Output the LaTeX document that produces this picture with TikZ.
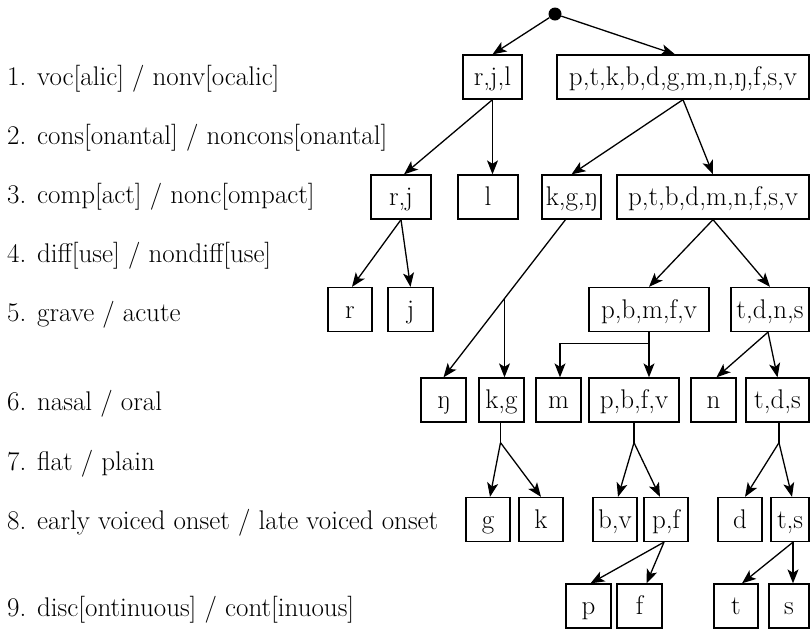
\documentclass[tikz,border=0pt]{standalone}
\usepackage{fontspec}
\setmainfont{Latin Modern Roman}
\usetikzlibrary{arrows.meta,calc}
\begin{document}
\begin{tikzpicture}[x=1pt,y=-1pt,
  every node/.style={font=\fontsize{27}{32}\selectfont},
  bx/.style={draw,line width=1.3pt,minimum height=44pt,inner sep=0pt,text height=20.5pt,text depth=3.5pt},
  lbl/.style={anchor=base west,inner sep=0pt},
  ar/.style={line width=1.3pt,-{Stealth[length=14pt,width=11pt,inset=3.5pt]}},
  ln/.style={line width=1.3pt}]
\useasboundingbox (0,0) rectangle (812,630);
% labels
\node[lbl] (l1) at (7,85)  {1. voc[alic] / nonv[ocalic]};
\node[lbl] (l2) at (7,144) {2. cons[onantal] / noncons[onantal]};
\node[lbl] (l3) at (7,203) {3. comp[act] / nonc[ompact]};
\node[lbl] (l4) at (7,262) {4. diff[use] / nondiff[use]};
\node[lbl] (l5) at (7,321) {5. grave / acute};
\node[lbl] (l6) at (7,410) {6. nasal / oral};
\node[lbl] (l7) at (7,470) {7. flat / plain};
\node[lbl] (l8) at (7,529) {8. early voiced onset / late voiced onset};
\node[lbl] (l9) at (7,616) {9. disc[ontinuous] / cont[inuous]};
% root
\node[circle,fill,inner sep=0pt,minimum size=13pt] (root) at (555,14) {};
% level 1
\node[bx,minimum width=59pt]  (rjl) at (492.5,77) {r,j,l};
\node[bx,minimum width=252pt] (all) at (683,77) {p,t,k,b,d,g,m,n,ŋ,f,s,v};
% level 3
\node[bx,minimum width=60pt]  (rj)   at (401,197) {r,j};
\node[bx,minimum width=60pt]  (l)    at (488,197) {l};
\node[bx,minimum width=59pt]  (kgng) at (571.5,197) {k,g,ŋ};
\node[bx,minimum width=192pt] (ptbd) at (713,197) {p,t,b,d,m,n,f,s,v};
% level 5
\node[bx,minimum width=44pt]  (r)     at (350,309.5) {r};
\node[bx,minimum width=45pt]  (j)     at (410.5,309.5) {j};
\node[bx,minimum width=120pt] (pbmfv) at (649,309.5) {p,b,m,f,v};
\node[bx,minimum width=78pt]  (tdns)  at (770,309.5) {t,d,n,s};
% level 6
\node[bx,minimum width=45pt] (ng)   at (443.5,400) {ŋ};
\node[bx,minimum width=45pt] (kg)   at (501.5,400) {k,g};
\node[bx,minimum width=45pt] (m)    at (558.5,400) {m};
\node[bx,minimum width=90pt] (pbfv) at (634,400) {p,b,f,v};
\node[bx,minimum width=45pt] (n)    at (713.5,400) {n};
\node[bx,minimum width=63pt] (tds)  at (777.5,400) {t,d,s};
% level 8
\node[bx,minimum width=44pt] (g)  at (488,519.5) {g};
\node[bx,minimum width=44pt] (k)  at (541,519.5) {k};
\node[bx,minimum width=44pt] (bv) at (615,519.5) {b,v};
\node[bx,minimum width=44pt] (pf) at (666,519.5) {p,f};
\node[bx,minimum width=44pt] (d)  at (740,519.5) {d};
\node[bx,minimum width=38pt] (ts) at (790,519.5) {t,s};
% level 9
\node[bx,minimum width=45pt] (p) at (588.5,606) {p};
\node[bx,minimum width=45pt] (f) at (639.5,606) {f};
\node[bx,minimum width=44pt] (t) at (736,606) {t};
\node[bx,minimum width=40pt] (s) at (789,606) {s};
% connectors
\draw[ar] (root) -- (rjl.north);
\draw[ar] (root) -- ($(all.north)+(-8,0)$);
\draw[ar] (rjl.south) -- ($(rj.north)+(3,0)$);
\draw[ar] (rjl.south) -- (rjl.south |- l.north);
\draw[ar] (all.south) -- (kgng.north);
\draw[ar] (all.south) -- (ptbd.north);
\draw[ar] (rj.south) -- ($(r.north)+(2,0)$);
\draw[ar] (rj.south) -- (j.north);
\coordinate (ks) at ($(kgng.south)+(-6,0)$);
\coordinate (br) at ($(ks)!0.5!(ng.north)$);
\draw[ar] (ks) -- (ng.north);
\draw[ar] (br) -- (br |- kg.north);
\draw[ar] (ptbd.south) -- (pbmfv.north);
\draw[ar] (ptbd.south) -- (tdns.north);
\coordinate (el) at ($(pbmfv.south)+(0,11)$);
\draw[ar] (pbmfv.south) -- (pbmfv.south |- pbfv.north);
\draw[ar] (el) -| ($(m.north)+(1.5,0)$);
\coordinate (tdb) at ($(tdns.south)+(-2,0)$);
\draw[ar] (tdb) -- ($(n.north)+(3,0)$);
\draw[ar] (tdb) -- (tds.north);
\coordinate (f1) at ($(kg.south)+(-1,20)$);
\draw[ln] ($(kg.south)+(-1,0)$) -- (f1);
\draw[ar] (f1) -- ($(g.north)+(2,0)$);
\draw[ar] (f1) -- (k.north);
\coordinate (f2) at ($(pbfv.south)+(0,20)$);
\draw[ln] (pbfv.south) -- (f2);
\draw[ar] (f2) -- ($(bv.north)+(3,0)$);
\draw[ar] (f2) -- ($(pf.north)+(-6,0)$);
\coordinate (f3) at ($(tds.south)+(1.5,20)$);
\draw[ln] ($(tds.south)+(1.5,0)$) -- (f3);
\draw[ar] (f3) -- ($(d.north)+(5,0)$);
\draw[ar] (f3) -- ($(ts.north)+(2,0)$);
\coordinate (pfb) at ($(pf.south)+(-2,0)$);
\draw[ar] (pfb) -- ($(p.north)+(2,0)$);
\draw[ar] (pfb) -- ($(f.north)+(7,0)$);
\coordinate (tsb) at ($(ts.south)+(3,0)$);
\draw[ar] (tsb) -- ($(t.north)+(6,0)$);
\draw[ar] (tsb) -- (tsb |- s.north);
\end{tikzpicture}
\end{document}
